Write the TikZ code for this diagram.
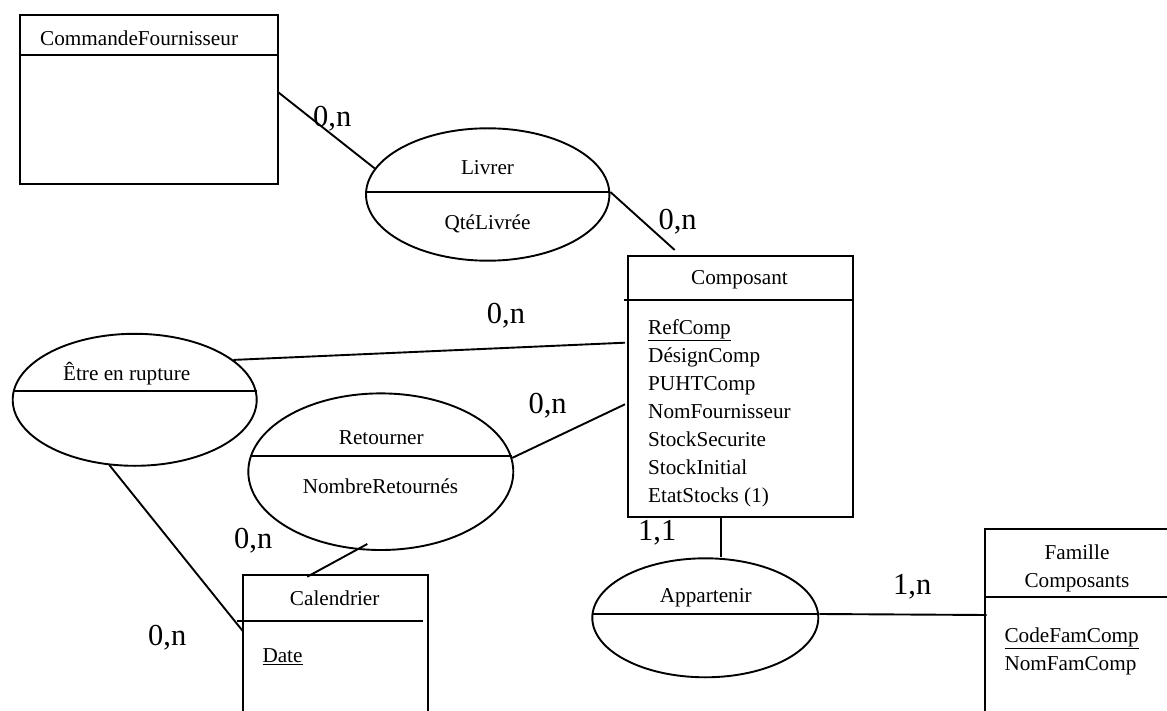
\documentclass[tikz,border=0pt]{standalone}
\usepackage{fontspec}
\setmainfont{Liberation Serif}
\usetikzlibrary{shapes.geometric,calc}
\begin{document}
\begin{tikzpicture}[x=1pt,y=-1pt,
  ln/.style={line width=1.9pt},
  ent/.style={draw,line width=1.9pt,rectangle,inner sep=0pt,anchor=north west},
  assoc/.style={draw,line width=1.9pt,ellipse,inner sep=0pt},
  txt/.style={font=\fontsize{21.2}{25}\selectfont,inner sep=0pt},
  card/.style={font=\fontsize{30.5}{36}\selectfont,inner sep=0pt,anchor=base west},
]
\useasboundingbox (0,0) rectangle (1167,711);

% entities
\node[ent,minimum width=258pt,minimum height=169pt] (cf) at (19,14) {};
\draw[ln] ($(cf.north west)+(0,41)$) -- ($(cf.north east)+(0,41)$);
\node[ent,minimum width=225pt,minimum height=261pt] (comp) at (626.7,255) {};
\draw[ln] ($(comp.north west)+(-3,45)$) -- ($(comp.north east)+(0,45)$);
\node[ent,minimum width=185.6pt,minimum height=146pt] (cal) at (241.7,574.3) {};
\draw[ln] ($(cal.north west)+(-5,46.4)$) -- ($(cal.north east)+(-6.6,46.4)$);
\node[ent,minimum width=190pt,minimum height=192pt] (fam) at (984,528.3) {};
\draw[ln] ($(fam.north west)+(0,69)$) -- ($(fam.north east)+(0,69)$);

% associations
\node[assoc,minimum width=243.4pt,minimum height=132.4pt] (liv) at (487.7,194.5) {};
\draw[ln] ($(liv.west)+(0,-2.8)$) -- ($(liv.east)+(0,-2.8)$);
\node[assoc,minimum width=244pt,minimum height=132pt] (ete) at (134.7,399.8) {};
\draw[ln] ($(ete.west)+(1.1,-8.8)$) -- ($(ete.east)+(-1.1,-8.8)$);
\node[assoc,minimum width=265pt,minimum height=156.6pt] (ret) at (380.8,471.7) {};
\draw[ln] ($(ret.west)+(2.7,-15.7)$) -- ($(ret.east)+(-2.7,-15.7)$);
\node[assoc,minimum width=226pt,minimum height=119pt] (app) at (705.3,617.8) {};
\draw[ln] ($(app.west)+(0.2,-3.8)$) -- ($(app.east)+(-0.2,-3.8)$);

% connectors
\draw[ln] ($(cf.north east)+(-1,78)$) -- (liv.167);
\draw[ln] ($(liv.east)+(0,-2.5)$) -- ($(comp.north west)+(48,-5)$);
\draw[ln] (ete.22) -- ($(comp.north west)+(-1.7,87.7)$);
\draw[ln] (ret.6) -- ($(comp.north west)+(-1.7,149.3)$);
\draw[ln] ($(ret.center)+(-13.5,72.3)$) -- ($(cal.north west)+(65.6,2.4)$);
\draw[ln] ($(ete.center)+(-25.4,65.2)$) -- ($(cal.north west)+(1.6,57.4)$);
\coordinate (c1) at ($(comp.south west)+(94.3,0)$);
\draw[ln] (c1) -- (c1 |- app.north);
\draw[ln] ($(app.east)+(0,-3.8)$) -- ($(fam.north west)+(2.7,86.7)$);

% entity texts
\node[txt,anchor=base west] (cft) at (40,45.7) {CommandeFournisseur};
\node[txt,anchor=base] (compt) at (739.5,285) {Composant};
\node[txt,anchor=base west] (a1) at (648,334.3) {\underline{RefComp}};
\node[txt,anchor=base west] (a2) at (648,362.3) {DésignComp};
\node[txt,anchor=base west] (a3) at (648,390.3) {PUHTComp};
\node[txt,anchor=base west] (a4) at (648,418.3) {NomFournisseur};
\node[txt,anchor=base west] (a5) at (648,446.3) {StockSecurite};
\node[txt,anchor=base west] (a6) at (648,474.3) {StockInitial};
\node[txt,anchor=base west] (a7) at (648,502.3) {EtatStocks (1)};
\node[txt,anchor=base] (calt) at (334.7,605) {Calendrier};
\node[txt,anchor=base west] (d1) at (262.3,662.7) {\underline{Date}};
\node[txt,anchor=base] (famt1) at (1077,559.3) {Famille};
\node[txt,anchor=base] (famt2) at (1077,587.3) {Composants};
\node[txt,anchor=base west] (f1) at (1004.3,642.7) {\underline{CodeFamComp}};
\node[txt,anchor=base west] (f2) at (1004.3,670.7) {NomFamComp};

% association texts
\node[txt,anchor=base] (livt) at (487.5,175) {Livrer};
\node[txt,anchor=base] (livq) at (487.5,229.3) {QtéLivrée};
\node[txt,anchor=base] (etet) at (126.7,380.7) {Être en rupture};
\node[txt,anchor=base] (rett) at (381.3,444) {Retourner};
\node[txt,anchor=base] (retn) at (380.5,493.3) {NombreRetournés};
\node[txt,anchor=base] (appt) at (705.8,602.7) {Appartenir};

% cardinalities
\node[card] (k1) at (313,126.7) {0,n};
\node[card] (k2) at (658.3,230) {0,n};
\node[card] (k3) at (486.7,323.3) {0,n};
\node[card] (k4) at (528.3,413.3) {0,n};
\node[card] (k5) at (234,548.3) {0,n};
\node[card] (k6) at (148,645) {0,n};
\node[card] (k7) at (638,540.7) {1,1};
\node[card] (k8) at (893,594.3) {1,n};
\end{tikzpicture}
\end{document}
